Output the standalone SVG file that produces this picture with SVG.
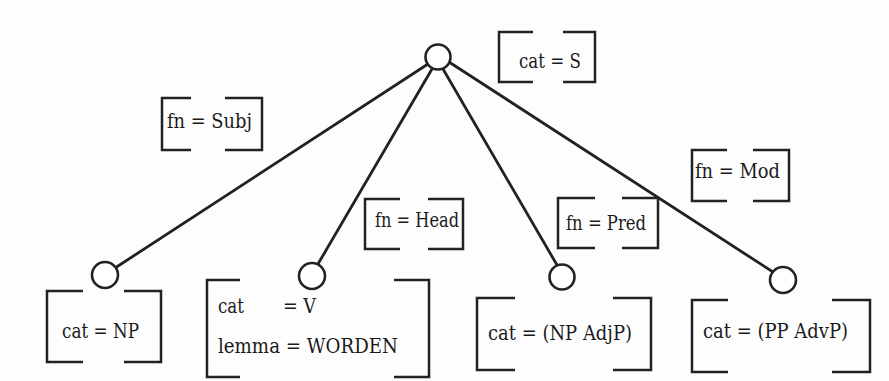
<svg xmlns="http://www.w3.org/2000/svg" width="889" height="381" viewBox="0 0 889 381">
<style>
.bg{fill:#fdfdfd}
.n{fill:#ffffff;stroke:#222;stroke-width:2.6}
.e{stroke:#222;stroke-width:2.8;fill:none;stroke-linecap:round}
.b{stroke:#222;stroke-width:2.5;fill:none}
.t{font-family:'DejaVu Serif','Liberation Serif',serif;font-size:20px;fill:#1a1a1a}
</style>
<rect class="bg" width="889" height="381"/>
<g id="connectors">
<line class="e" x1="428" y1="64" x2="115" y2="268"/>
<line class="e" x1="432" y1="69" x2="318" y2="264"/>
<line class="e" x1="443" y1="69" x2="557" y2="265"/>
<line class="e" x1="449" y1="62" x2="773" y2="272"/>
</g>
<g class="t">
<g id="root">
<circle class="n" cx="438" cy="57" r="12.5"/>
<path class="b" d="M533 32H499V82H533M563 32H595V82H563"/>
<text x="519" y="68" textLength="62" lengthAdjust="spacingAndGlyphs">cat = S</text>
</g>
<g id="subj-label">
<path class="b" d="M191 98H162V150H191M225 98H262V150H225"/>
<text x="167" y="128" textLength="85" lengthAdjust="spacingAndGlyphs">fn = Subj</text>
</g>
<g id="head-label">
<path class="b" d="M400 199H365V249H400M428 199H463V249H428"/>
<text x="375" y="227" textLength="84" lengthAdjust="spacingAndGlyphs">fn = Head</text>
</g>
<g id="pred-label">
<path class="b" d="M595 198H558V248H595M622 198H658V248H622"/>
<text x="566" y="230" textLength="80" lengthAdjust="spacingAndGlyphs">fn = Pred</text>
</g>
<g id="mod-label">
<path class="b" d="M727 150H692V201H727M753 150H789V201H753"/>
<text x="695" y="178" textLength="85" lengthAdjust="spacingAndGlyphs">fn = Mod</text>
</g>
<g id="np">
<circle class="n" cx="105" cy="275" r="13"/>
<path class="b" d="M83 291H47V362H83M124 291H161V362H124"/>
<text x="62" y="338" textLength="77" lengthAdjust="spacingAndGlyphs">cat = NP</text>
</g>
<g id="v">
<circle class="n" cx="312" cy="276" r="13"/>
<path class="b" d="M240 280H207V377H240M394 280H429V377H394"/>
<text x="218" y="313" textLength="26" lengthAdjust="spacingAndGlyphs">cat</text>
<text x="283" y="313" textLength="33" lengthAdjust="spacingAndGlyphs">= V</text>
<text x="218" y="353" textLength="180" lengthAdjust="spacingAndGlyphs">lemma = WORDEN</text>
</g>
<g id="adjp">
<circle class="n" cx="562" cy="277" r="12.5"/>
<path class="b" d="M515 298H477V370H515M613 298H651V370H613"/>
<text x="488" y="340" textLength="144" lengthAdjust="spacingAndGlyphs">cat = (NP AdjP)</text>
</g>
<g id="advp">
<circle class="n" cx="783" cy="280" r="13"/>
<path class="b" d="M728 300H692V372H728M832 300H870V372H832"/>
<text x="703" y="338" textLength="145" lengthAdjust="spacingAndGlyphs">cat = (PP AdvP)</text>
</g>
</g>
</svg>
